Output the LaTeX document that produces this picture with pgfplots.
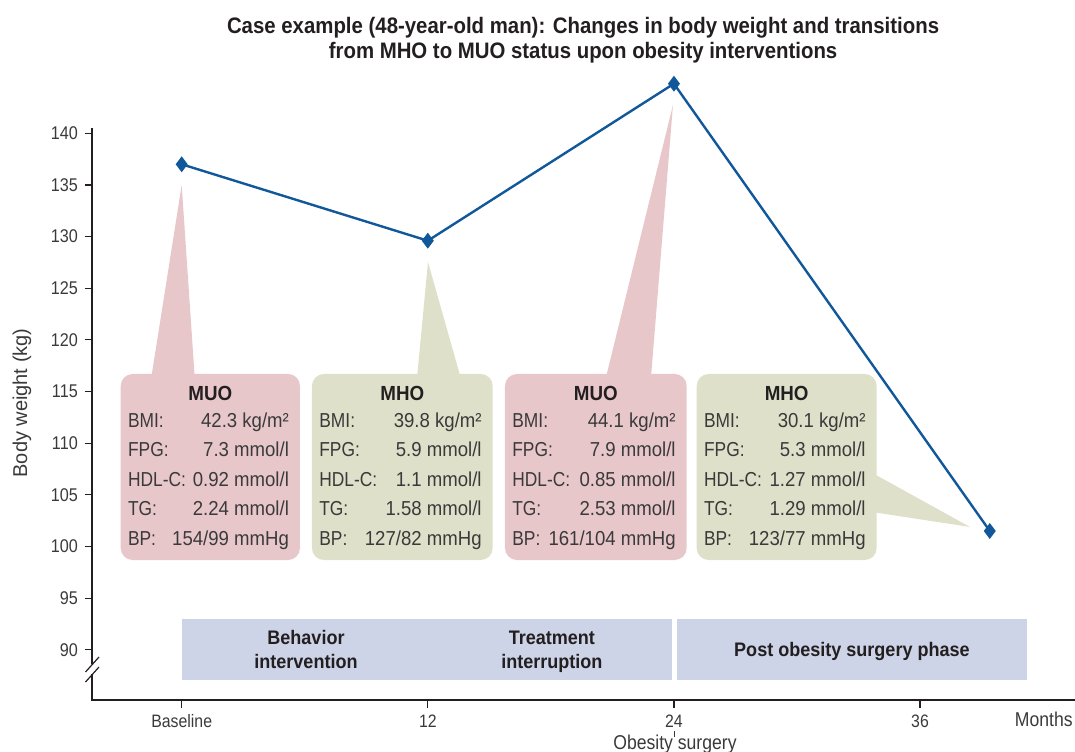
\documentclass[border=0pt]{standalone}
\usepackage{pgfplots}
\pgfplotsset{compat=1.18}
\usepackage{fontspec}
\setmainfont{Liberation Sans}
\newfontfamily\cond{Liberation Sans}[FakeStretch=0.88]
\newfontfamily\condlab{Liberation Sans}[FakeStretch=0.86]
\newfontfamily\condbox{Liberation Sans}[FakeStretch=0.92]
\newfontfamily\condb{Liberation Sans}[FakeStretch=0.91]
\newfontfamily\bandf{Liberation Sans}[FakeStretch=0.92]

\definecolor{lineblue}{HTML}{11589A}
\definecolor{pinkbox}{HTML}{E8C7CB}
\definecolor{greenbox}{HTML}{DFE0CA}
\definecolor{bandblue}{HTML}{CDD4E7}
\definecolor{axisgray}{HTML}{231F20}
\definecolor{txtgray}{HTML}{3A3A3A}

\newcommand{\boxfont}{\condbox\fontsize{10.1}{12}\selectfont}
\newcommand{\labfont}{\condlab\fontsize{10.1}{12}\selectfont}
\newcommand{\infobox}[9]{%
 \fill[#9, rounded corners=6pt] (axis cs:#1,98.69) rectangle (axis cs:#2,116.70);
 \node[anchor=base, inner sep=0pt, font=\condbox\bfseries\fontsize{10.2}{12}\selectfont, text=axisgray] at (axis cs:{(#1+#2)/2},114.18) {#3};
 \node[anchor=base west, inner sep=0pt, font=\labfont, text=txtgray] at (axis cs:{#1+0.34},111.54) {BMI:};
 \node[anchor=base east, inner sep=0pt, font=\boxfont, text=txtgray] at (axis cs:{#2-0.52},111.54) {#4};
 \node[anchor=base west, inner sep=0pt, font=\labfont, text=txtgray] at (axis cs:{#1+0.34},108.68) {FPG:};
 \node[anchor=base east, inner sep=0pt, font=\boxfont, text=txtgray] at (axis cs:{#2-0.52},108.68) {#5};
 \node[anchor=base west, inner sep=0pt, font=\labfont, text=txtgray] at (axis cs:{#1+0.34},105.83) {HDL-C:};
 \node[anchor=base east, inner sep=0pt, font=\boxfont, text=txtgray] at (axis cs:{#2-0.52},105.83) {#6};
 \node[anchor=base west, inner sep=0pt, font=\labfont, text=txtgray] at (axis cs:{#1+0.34},102.97) {TG:};
 \node[anchor=base east, inner sep=0pt, font=\boxfont, text=txtgray] at (axis cs:{#2-0.52},102.97) {#7};
 \node[anchor=base west, inner sep=0pt, font=\labfont, text=txtgray] at (axis cs:{#1+0.34},100.12) {BP:};
 \node[anchor=base east, inner sep=0pt, font=\boxfont, text=txtgray] at (axis cs:{#2-0.52},100.12) {#8};
}

\begin{document}
\begin{tikzpicture}
\begin{axis}[
  x=10.255pt, y=5.165pt,
  xmin=-4.35, xmax=43.555, ymin=85.14, ymax=140.5,
  axis x line*=bottom, axis y line*=left,
  x axis line style={line width=1pt, color=axisgray},
  y axis line style={draw=none},
  xtick={0,12,24,36}, xticklabels={Baseline,12,24,36},
  ytick={90,95,...,140},
  /pgf/number format/assume math mode=true,
  tick align=outside, major tick length=3.8pt,
  tick style={line width=0.6pt, color=axisgray},
  xticklabel style={font=\cond\fontsize{9}{10}\selectfont, text=txtgray},
  yticklabel style={font=\cond\fontsize{9.2}{10}\selectfont, text=txtgray},
  clip=false,
]
% bands
\fill[bandblue] (axis cs:0,87.08) rectangle (axis cs:23.92,92.98);
\fill[bandblue] (axis cs:24.16,87.08) rectangle (axis cs:41.20,92.98);
\node[anchor=base, inner sep=0pt, font=\bandf\bfseries\fontsize{9.8}{11}\selectfont, text=axisgray] at (axis cs:6.06,90.47) {Behavior};
\node[anchor=base, inner sep=0pt, font=\bandf\bfseries\fontsize{9.8}{11}\selectfont, text=axisgray] at (axis cs:6.06,88.21) {intervention};
\node[anchor=base, inner sep=0pt, font=\bandf\bfseries\fontsize{9.8}{11}\selectfont, text=axisgray] at (axis cs:18.05,90.47) {Treatment};
\node[anchor=base, inner sep=0pt, font=\bandf\bfseries\fontsize{9.8}{11}\selectfont, text=axisgray] at (axis cs:18.05,88.21) {interruption};
\node[anchor=base, inner sep=0pt, font=\bandf\bfseries\fontsize{9.8}{11}\selectfont, text=axisgray] at (axis cs:32.68,89.33) {Post obesity surgery phase};
% callout pointers
\fill[pinkbox] (axis cs:-1.511,116.0) -- (axis cs:0,134.995) -- (axis cs:0.648,116.0) -- cycle;
\fill[greenbox] (axis cs:11.458,116.0) -- (axis cs:12.009,127.54) -- (axis cs:13.652,116.0) -- cycle;
\fill[pinkbox] (axis cs:20.639,116.0) -- (axis cs:23.954,142.74) -- (axis cs:22.867,116.0) -- cycle;
\fill[greenbox] (axis cs:33.56,107.24) -- (axis cs:38.435,101.89) -- (axis cs:33.56,103.37) -- cycle;
% boxes
\infobox{-2.974}{5.768}{MUO}{42.3 kg/m²}{7.3 mmol/l}{0.92 mmol/l}{2.24 mmol/l}{154/99 mmHg}{pinkbox}
\infobox{6.353}{15.163}{MHO}{39.8 kg/m²}{5.9 mmol/l}{1.1 mmol/l}{1.58 mmol/l}{127/82 mmHg}{greenbox}
\infobox{15.763}{24.622}{MUO}{44.1 kg/m²}{7.9 mmol/l}{0.85 mmol/l}{2.53 mmol/l}{161/104 mmHg}{pinkbox}
\infobox{25.110}{33.886}{MHO}{30.1 kg/m²}{5.3 mmol/l}{1.27 mmol/l}{1.29 mmol/l}{123/77 mmHg}{greenbox}
% data
\addplot[lineblue, line width=1.2pt, mark=diamond*, mark size=3pt, mark options={fill=lineblue, solid}]
  coordinates {(0,137.0) (12,129.6) (24,144.8) (39.4,101.5)};
% y axis with break
\draw[axisgray, line width=1pt] (axis cs:-4.35,140.5) -- (axis cs:-4.35,88.59);
\draw[axisgray, line width=1pt] (axis cs:-4.35,87.62) -- (axis cs:-4.35,85.05);
\draw[axisgray, line width=0.6pt] (axis cs:-4.690,87.85) -- (axis cs:-4.032,89.30);
\draw[axisgray, line width=0.6pt] (axis cs:-4.690,86.88) -- (axis cs:-4.032,88.33);
% labels
\node[rotate=90, anchor=center, font=\fontsize{10}{11}\selectfont, text=txtgray] at (axis cs:-7.79,113.9) {Body weight (kg)};
\node[anchor=base east, inner sep=0pt, font=\cond\fontsize{10}{11}\selectfont, text=txtgray] at (axis cs:43.46,82.53) {Months};
\node[anchor=base, inner sep=0pt, font=\cond\fontsize{10}{11}\selectfont, text=txtgray] at (axis cs:24.05,80.30) {Obesity surgery};
\draw[txtgray, line width=0.5pt] (axis cs:24.05,82.14) -- (axis cs:24.05,81.56);
\node[anchor=base, inner sep=0pt, font=\condb\bfseries\fontsize{11.2}{13}\selectfont, text=axisgray] at (axis cs:19.57,149.68) {Case example (48-year-old man): Changes in body weight and transitions};
\node[anchor=base, inner sep=0pt, font=\condb\bfseries\fontsize{11.2}{13}\selectfont, text=axisgray] at (axis cs:19.57,147.24) {from MHO to MUO status upon obesity interventions};
\coordinate (bbSW) at (axis cs:-8.859,80.106);
\coordinate (bbNE) at (axis cs:43.555,152.904);
\end{axis}
\pgfresetboundingbox
\useasboundingbox (bbSW) rectangle (bbNE);
\end{tikzpicture}
\end{document}
